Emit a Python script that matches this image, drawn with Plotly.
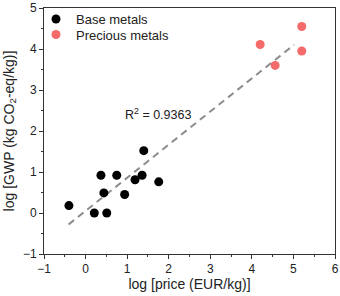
import plotly.graph_objects as go

base_x = [-0.40, 0.21, 0.51, 0.37, 0.44, 0.75, 0.94, 1.19, 1.36, 1.40, 1.76]
base_y = [0.18, 0.00, 0.00, 0.92, 0.49, 0.92, 0.45, 0.81, 0.92, 1.52, 0.76]
prec_x = [4.20, 4.56, 5.20, 5.20]
prec_y = [4.11, 3.60, 3.95, 4.55]
fit_x = [-0.41, 5.02]
fit_slope = 0.808
fit_intercept = 0.051
fit_y = [fit_slope * v + fit_intercept for v in fit_x]
r2_text = "R<sup>2</sup> = 0.9363"

FONT = "Liberation Sans, Arial, sans-serif"

fig = go.Figure()
fig.add_trace(go.Scatter(x=fit_x, y=fit_y, mode="lines", showlegend=False,
                         line=dict(color="#8c8c8c", width=2, dash="7px,5px")))
fig.add_trace(go.Scatter(x=base_x, y=base_y, mode="markers", name="Base metals",
                         marker=dict(color="black", size=9), legend="legend"))
fig.add_trace(go.Scatter(x=prec_x, y=prec_y, mode="markers", name="Precious metals",
                         marker=dict(color="#f56b6b", size=9), legend="legend2"))

fig.add_annotation(x=1.74, y=2.41, text=r2_text, showarrow=False,
                   font=dict(size=12.5, color="#222", family=FONT))

axis_common = dict(showline=True, linecolor="#333", linewidth=1, mirror=True,
                   ticks="outside", ticklen=4, tickwidth=1, tickcolor="#333",
                   showgrid=False, zeroline=False, automargin=False,
                   tickfont=dict(size=12, color="#222", family=FONT),
                   minor=dict(ticks="outside", ticklen=2, tickwidth=1, tickcolor="#333", dtick=0.5))

fig.update_xaxes(range=[-1, 6], dtick=1, tick0=0,
                 title=dict(text="log [price (EUR/kg)]", font=dict(size=14, color="#222", family=FONT), standoff=3),
                 **axis_common)
fig.update_yaxes(range=[-1, 5], dtick=1, tick0=0,
                 title=dict(text="log [GWP (kg CO<sub>2</sub>-eq/kg)]", font=dict(size=14, color="#222", family=FONT), standoff=5),
                 **axis_common)

leg_common = dict(xanchor="left", yanchor="middle", bgcolor="rgba(0,0,0,0)",
                  font=dict(size=13, color="#222", family=FONT), itemwidth=30)
# plot area: x 44..335 (291 px), y 7..254 (247 px)
fig.update_layout(width=340, height=296, margin=dict(l=44, r=5, t=7, b=42),
                  plot_bgcolor="white", paper_bgcolor="white",
                  font=dict(family=FONT),
                  legend=dict(x=(36 - 44) / 291, y=(254 - 19) / 247, **leg_common),
                  legend2=dict(x=(36 - 44) / 291, y=(254 - 34.5) / 247, **leg_common))

fig.write_html("out.html", config={"displayModeBar": False},
               post_script="document.body.style.margin='0';document.body.style.overflow='hidden';")
